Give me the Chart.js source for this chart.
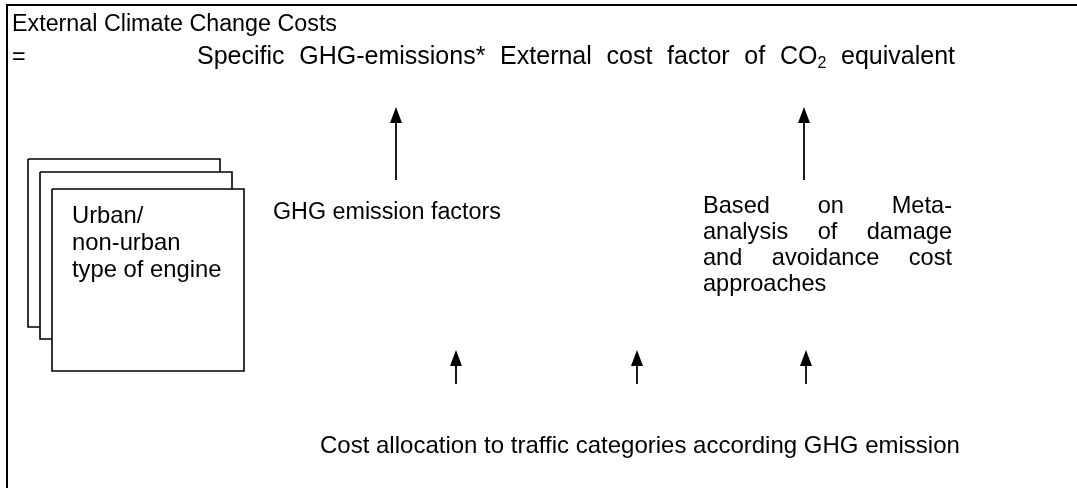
<!DOCTYPE html>
<html><head><meta charset="utf-8">
<script src="https://cdn.jsdelivr.net/npm/chart.js@4/dist/chart.umd.min.js"></script>
<style>html,body{margin:0;padding:0;background:#fff;overflow:hidden}canvas{display:block}</style>
</head><body><canvas id="c" width="1077" height="488"></canvas>
<script>
// ---- diagram data (in diagram units, mapped through Chart.js scales) ----
const frameX = [7, 7, 1077];
const frameY = [488, 5, 5];

// stacked sheets: back, middle, front
const boxLeft = [28, 40, 52];
const boxTop = [159, 172, 189];
const boxRight = [220, 232, 244];
const boxBottom = [327, 339, 371];

// upward arrows
const arrowX = [396, 804, 456, 637, 806];
const arrowTipY = [107, 107, 350, 350, 350];
const arrowBaseY = [180, 180, 384, 384, 384];

// plain text labels
const labelText = [
  "External Climate Change Costs",
  "=",
  "Urban/",
  "non-urban",
  "type of engine",
  "GHG emission factors",
  "Cost allocation to traffic categories according GHG emission"
];
const labelX = [12, 12, 72, 72, 72, 273, 320];
const labelY = [31, 64, 223, 250, 277, 219, 453];
const labelSize = [23.3, 23.3, 23.8, 23.8, 23.8, 23.3, 24];

// formula line, spread between two x positions ("_2" marks a subscript 2)
const formulaText = "Specific GHG-emissions* External cost factor of CO_2 equivalent";
const formulaLeft = 197;
const formulaRight = 955;
const formulaY = 64;

// justified block
const justText = ["Based on Meta-", "analysis of damage", "and avoidance cost", "approaches"];
const justLeft = 703;
const justRight = 952;
const justY = [213, 239, 265, 291];

// ---- build datasets ----
const FONT = '"Liberation Sans", Arial, sans-serif';
const datasets = [];
datasets.push({
  data: frameX.map((v, i) => ({x: v, y: frameY[i]})),
  showLine: true, borderColor: '#000', borderWidth: 2, pointRadius: 0, fill: false, order: 5
});
boxLeft.forEach((l, i) => {
  const t = boxTop[i], r = boxRight[i], b = boxBottom[i];
  datasets.push({
    data: [{x:l,y:t},{x:r,y:t},{x:r,y:b},{x:l,y:b},{x:l,y:t}],
    showLine: true, borderColor: '#000', borderWidth: 1.6, pointRadius: 0,
    backgroundColor: '#fff', fill: 'shape', order: 4 - i, borderJoinStyle: 'miter'
  });
});
arrowX.forEach((ax, i) => {
  datasets.push({
    data: [{x: ax, y: arrowBaseY[i]}, {x: ax, y: arrowTipY[i] + 8}],
    showLine: true, borderColor: '#000', borderWidth: 1.8, pointRadius: 0, fill: false, order: 0
  });
});

const diagramPlugin = {
  id: 'diagram',
  afterDatasetsDraw(chart) {
    const {ctx} = chart;
    const sx = chart.scales.x, sy = chart.scales.y;
    const px = v => sx.getPixelForValue(v);
    const py = v => sy.getPixelForValue(v);
    ctx.save();
    // arrow heads
    ctx.fillStyle = '#000';
    arrowX.forEach((ax, i) => {
      const x = px(ax), tip = py(arrowTipY[i]);
      ctx.beginPath();
      ctx.moveTo(x, tip);
      ctx.lineTo(x + 6, tip + 16);
      ctx.lineTo(x - 6, tip + 16);
      ctx.closePath();
      ctx.fill();
    });
    ctx.textBaseline = 'alphabetic';
    ctx.textAlign = 'left';
    // labels
    labelText.forEach((txt, i) => {
      ctx.font = labelSize[i] + 'px ' + FONT;
      ctx.fillText(txt, px(labelX[i]), py(labelY[i]));
    });
    // formula line, words spread to span the given width
    {
      const big = '25px ' + FONT, small = '16px ' + FONT;
      const words = formulaText.split(' ');
      const measure = w => {
        const parts = w.split('_2');
        let s = 0;
        parts.forEach((p, k) => {
          ctx.font = big; s += ctx.measureText(p).width;
          if (k < parts.length - 1) { ctx.font = small; s += ctx.measureText('2').width; }
        });
        return s;
      };
      const widths = words.map(measure);
      const L = px(formulaLeft), R = px(formulaRight), y = py(formulaY);
      const gap = (R - L - widths.reduce((a, b) => a + b, 0)) / (words.length - 1);
      let x = L;
      words.forEach((w, k) => {
        const parts = w.split('_2');
        let xx = x;
        parts.forEach((p, j) => {
          ctx.font = big; ctx.fillText(p, xx, y); xx += ctx.measureText(p).width;
          if (j < parts.length - 1) { ctx.font = small; ctx.fillText('2', xx, y + 4); xx += ctx.measureText('2').width; }
        });
        x += widths[k] + gap;
      });
    }
    // justified block
    ctx.font = '23.6px ' + FONT;
    const L = px(justLeft), R = px(justRight);
    justText.forEach((line, i) => {
      const y = py(justY[i]);
      const words = line.split(' ');
      if (i === justText.length - 1 || words.length < 2) {
        ctx.fillText(line, L, y);
        return;
      }
      const widths = words.map(w => ctx.measureText(w).width);
      const gap = (R - L - widths.reduce((a, b) => a + b, 0)) / (words.length - 1);
      let x = L;
      words.forEach((w, k) => { ctx.fillText(w, x, y); x += widths[k] + gap; });
    });
    ctx.restore();
  }
};

new Chart(document.getElementById('c'), {
  type: 'scatter',
  data: {datasets},
  options: {
    responsive: false, animation: false, devicePixelRatio: 1,
    layout: {padding: 0},
    plugins: {legend: {display: false}, tooltip: {enabled: false}},
    elements: {line: {tension: 0}},
    scales: {
      x: {type: 'linear', min: 0, max: 1077, display: false},
      y: {type: 'linear', min: 0, max: 488, reverse: true, display: false}
    }
  },
  plugins: [diagramPlugin]
});
</script>
</body></html>
